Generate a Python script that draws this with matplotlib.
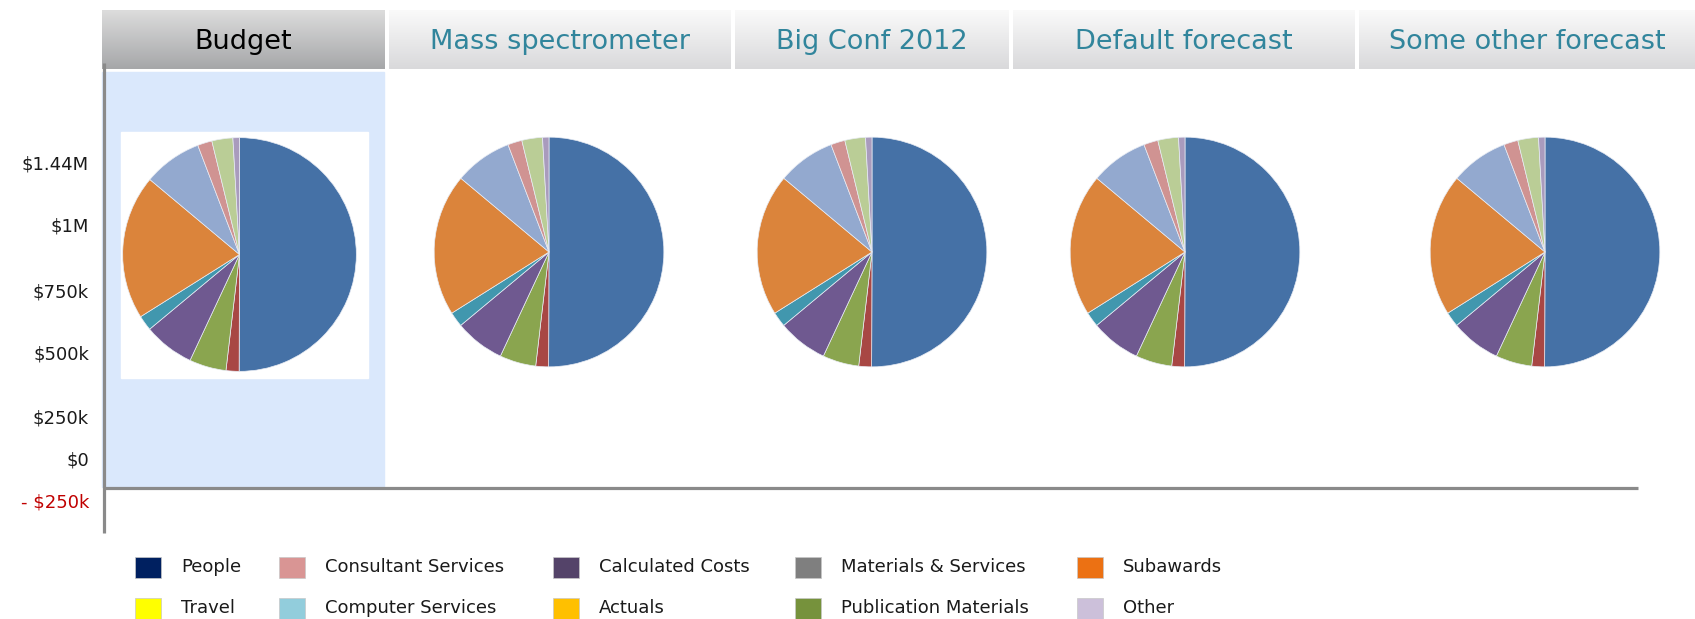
import numpy as np
import matplotlib
matplotlib.use("Agg")
import matplotlib.pyplot as plt
from matplotlib.patches import Rectangle

# ---- data ----
scenarios = ["Budget", "Mass spectrometer", "Big Conf 2012", "Default forecast", "Some other forecast"]
slice_shares = [50.0, 1.8, 5.1, 7.0, 2.1, 20.0, 8.1, 2.0, 2.9, 0.9]
slice_colors = ["#4571A6", "#A84744", "#8AA54F", "#6F5990", "#4197AE",
                "#DB843B", "#93A9CF", "#D09392", "#BACD96", "#A99BBD"]
ytick_labels = ["$1.44M", "$1M", "$750k", "$500k", "$250k", "$0", "- $250k"]
legend_labels = ["People", "Travel", "Consultant Services", "Computer Services",
                 "Calculated Costs", "Actuals", "Materials & Services",
                 "Publication Materials", "Subawards", "Other"]
legend_colors = ["#002060", "#FFFF00", "#D99594", "#92CDDC", "#544369",
                 "#FFC000", "#7F7F7F", "#76923C", "#EC7113", "#CCC0DA"]

W, H = 1695, 619
fig = plt.figure(figsize=(W / 100, H / 100), dpi=100)
bg = fig.add_axes([0, 0, 1, 1])
bg.set_xlim(0, W)
bg.set_ylim(H, 0)
bg.set_axis_off()

# tabs across the top
tab_edges = [(102, 385), (389, 731), (735, 1009), (1013, 1355), (1359, 1695)]
def grad(top, bot):
    t = np.array(matplotlib.colors.to_rgb(top))
    b = np.array(matplotlib.colors.to_rgb(bot))
    f = np.linspace(0, 1, 64)[:, None]
    return (t * (1 - f) + b * f)[:, None, :]

for i, (name, (x0, x1)) in enumerate(zip(scenarios, tab_edges)):
    if i == 0:
        img, col = grad("#DCDCDC", "#A6A7A9"), "black"
    else:
        img, col = grad("#FAFAFA", "#D9D9DB"), "#31859C"
    bg.imshow(img, extent=(x0, x1, 69, 10), aspect="auto", zorder=1)
    bg.text((x0 + x1) / 2, 49, name, ha="center", va="baseline",
            fontsize=19.5, color=col, zorder=3)

# selected column shading and white box behind its pie
bg.add_patch(Rectangle((102, 72), 282, 415, color="#DAE8FC", zorder=1))
bg.add_patch(Rectangle((121, 132), 247, 246, color="white", zorder=2))

# axis lines
bg.plot([104, 104], [63, 533], color="#8A8A8A", lw=2.3, zorder=4, solid_capstyle="butt")
bg.plot([104, 1638], [488, 488], color="#8A8A8A", lw=2.3, zorder=4, solid_capstyle="butt")

ytick_pos = [165, 227, 292, 355, 419, 460, 502]
for lab, yp in zip(ytick_labels, ytick_pos):
    c = "#C00000" if lab.startswith("-") else "#1a1a1a"
    bg.text(89, yp, lab, ha="right", va="center", fontsize=13, color=c)

# pies
pie_boxes = [(239.5, 254.5, 118), (549, 252, 116), (872, 252, 116), (1185, 252, 116), (1545, 252, 116)]
for cx, cy, r in pie_boxes:
    ax = fig.add_axes([(cx - r) / W, (H - cy - r) / H, 2 * r / W, 2 * r / H])
    ax.pie(slice_shares, colors=slice_colors, startangle=90, counterclock=False,
           wedgeprops=dict(edgecolor="#E8ECF4", linewidth=0.5))
    ax.set_xlim(-1.01, 1.01)
    ax.set_ylim(-1.01, 1.01)
    ax.set_axis_off()

# legend
col_x = [135, 279, 553, 795, 1077]
row_y = [567, 608]
for k, (lab, c) in enumerate(zip(legend_labels, legend_colors)):
    x = col_x[k // 2]
    y = row_y[k % 2]
    bg.add_patch(Rectangle((x, y - 10.5), 26, 21, facecolor=c, edgecolor="#C8C8C8", lw=0.5, zorder=3))
    bg.text(x + 46, y, lab, ha="left", va="center", fontsize=13, color="#1a1a1a")

fig.savefig("out.png", dpi=100)
